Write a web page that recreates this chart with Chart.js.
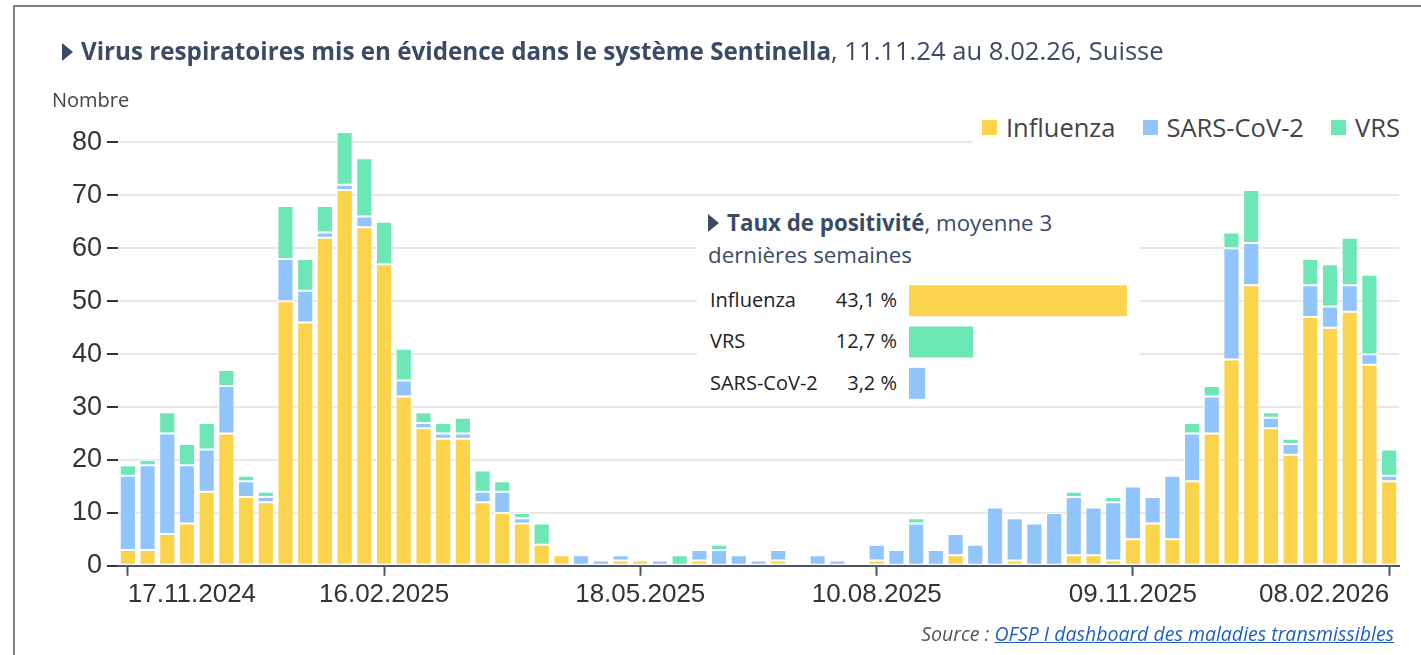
<!DOCTYPE html>
<html lang="fr">
<head>
<meta charset="utf-8">
<script src="https://cdn.jsdelivr.net/npm/chart.js@4.4.1/dist/chart.umd.min.js"></script>
<style>
  html, body { margin: 0; padding: 0; background: #fff; }
  #wrap { position: relative; width: 1421px; height: 655px; overflow: hidden; font-family: "Open Sans", sans-serif; }
  #frame { position: absolute; left: 13px; top: 5px; width: 1440px; height: 700px; border: 2px solid #808080; box-sizing: border-box; }
  #main { position: absolute; left: 0; top: 0; }
  .title { position: absolute; left: 62px; top: 33px; font-size: 25.6px; color: #3b4b66; white-space: nowrap; }
  .title b { font-weight: 700; font-size: 24.2px; }
  .tri { display: inline-block; width: 0; height: 0; border-top: 9px solid transparent; border-bottom: 9px solid transparent; border-left: 11px solid #3b4b66; margin-right: 8px; vertical-align: -1px; }
  .ylab { position: absolute; left: 52px; top: 86px; font-size: 20px; color: #444; }
  #legend { position: absolute; left: 972px; top: 100px; width: 449px; height: 54px; background: #fff; display: flex; align-items: center; gap: 27px; padding-left: 10px; box-sizing: border-box; }
  #legend span.item { display: flex; align-items: center; font-size: 25.5px; color: #444; }
  #legend i { display: inline-block; width: 15px; height: 15px; margin-right: 9px; }
  #inset { position: absolute; left: 697px; top: 200px; width: 443px; height: 205px; background: #fff; }
  #inset .ititle { position: absolute; left: 11px; top: 7px; width: 380px; font-size: 22.3px; line-height: 32px; color: #3b4b66; }
  #inset .row { position: absolute; left: 13px; font-size: 20px; color: #222; width: 187px; }
  #inset .row .pct { position: absolute; right: 0; top: 0; }
  #bars { position: absolute; left: 212px; top: 80px; }
  .source { position: absolute; right: 27px; top: 620px; font-size: 19.5px; font-style: italic; color: #555; }
  .source a { color: #1f5fbf; text-decoration: underline; }
</style>
</head>
<body>
<div id="wrap">
  <div id="frame"></div>
  <canvas id="main" width="1421" height="655"></canvas>
  <div class="title"><span class="tri"></span><b>Virus respiratoires mis en évidence dans le système Sentinella</b>, 11.11.24 au 8.02.26, Suisse</div>
  <div class="ylab">Nombre</div>
  <div id="legend"></div>
  <div id="inset">
    <div class="ititle"><span class="tri"></span><b>Taux de positivité</b>, moyenne 3 dernières semaines</div>
    <div id="rows"></div>
    <canvas id="bars" width="230" height="124"></canvas>
  </div>
  <div class="source">Source : <a href="#">OFSP I dashboard des maladies transmissibles</a></div>
</div>

<script>
// weekly categories (week ending on Sunday)
const weeks = [
  "17.11.2024", "24.11.2024", "01.12.2024", "08.12.2024", "15.12.2024", "22.12.2024", "29.12.2024",
  "05.01.2025", "12.01.2025", "19.01.2025", "26.01.2025", "02.02.2025", "09.02.2025", "16.02.2025",
  "23.02.2025", "02.03.2025", "09.03.2025", "16.03.2025", "23.03.2025", "30.03.2025", "06.04.2025",
  "13.04.2025", "20.04.2025", "27.04.2025", "04.05.2025", "11.05.2025", "18.05.2025", "25.05.2025",
  "01.06.2025", "08.06.2025", "15.06.2025", "22.06.2025", "29.06.2025", "06.07.2025", "13.07.2025",
  "20.07.2025", "27.07.2025", "03.08.2025", "10.08.2025", "17.08.2025", "24.08.2025", "31.08.2025",
  "07.09.2025", "14.09.2025", "21.09.2025", "28.09.2025", "05.10.2025", "12.10.2025", "19.10.2025",
  "26.10.2025", "02.11.2025", "09.11.2025", "16.11.2025", "23.11.2025", "30.11.2025", "07.12.2025",
  "14.12.2025", "21.12.2025", "28.12.2025", "04.01.2026", "11.01.2026", "18.01.2026", "25.01.2026",
  "01.02.2026", "08.02.2026"
];

const influenza = [3, 3, 6, 8, 14, 25, 13, 12, 50, 46, 62, 71, 64, 57, 32, 26, 24, 24, 12, 10, 8, 4, 2, 0, 0, 1,
  1, 0, 0, 1, 0, 0, 0, 1, 0, 0, 0, 0, 1, 0, 0, 0, 2, 0, 0, 1, 0, 0, 2, 2, 1, 5, 8, 5, 16, 25, 39, 53, 26, 21,
  47, 45, 48, 38, 16];
const sarsCov2 = [14, 16, 19, 11, 8, 9, 3, 1, 8, 6, 1, 1, 2, 0, 3, 1, 1, 1, 2, 4, 1, 0, 0, 2, 1, 1,
  0, 1, 0, 2, 3, 2, 1, 2, 0, 2, 1, 0, 3, 3, 8, 3, 4, 4, 11, 8, 8, 10, 11, 9, 11, 10, 5, 12, 9, 7, 21, 8, 2, 2,
  6, 4, 5, 2, 1];
const vrs = [2, 1, 4, 4, 5, 3, 1, 1, 10, 6, 5, 10, 11, 8, 6, 2, 2, 3, 4, 2, 1, 4, 0, 0, 0, 0,
  0, 0, 2, 0, 1, 0, 0, 0, 0, 0, 0, 0, 0, 0, 1, 0, 0, 0, 0, 0, 0, 0, 1, 0, 1, 0, 0, 0, 2, 2, 3, 10, 1, 1,
  5, 8, 9, 15, 5];

const tickLabels = ["17.11.2024", "16.02.2025", "18.05.2025", "10.08.2025", "09.11.2025", "08.02.2026"];
const yTicks = [0, 10, 20, 30, 40, 50, 60, 70, 80];

// positivity rate, mean of last 3 weeks
const rateNames = ["Influenza", "VRS", "SARS-CoV-2"];
const rateValues = [43.1, 12.7, 3.2];

const colors = { Influenza: "#fcd34d", "SARS-CoV-2": "#93c5fd", VRS: "#6ee7b7" };
const seriesNames = ["Influenza", "SARS-CoV-2", "VRS"];
const seriesData = [influenza, sarsCov2, vrs];

// legend
const legend = document.getElementById("legend");
seriesNames.forEach(name => {
  const it = document.createElement("span");
  it.className = "item";
  it.innerHTML = '<i style="background:' + colors[name] + '"></i>' + name;
  legend.appendChild(it);
});

// inset rows text
const rows = document.getElementById("rows");
rateNames.forEach((name, i) => {
  const r = document.createElement("div");
  r.className = "row";
  r.style.top = (86 + i * 41.3) + "px";
  r.innerHTML = name + '<span class="pct">' + rateValues[i].toFixed(1).replace(".", ",") + " %</span>";
  rows.appendChild(r);
});

const fontFam = "'Liberation Sans', Arial, sans-serif";

new Chart(document.getElementById("main").getContext("2d"), {
  type: "bar",
  data: {
    labels: weeks,
    datasets: seriesNames.map((name, i) => ({
      label: name,
      data: seriesData[i],
      backgroundColor: colors[name],
      borderColor: "rgba(255,255,255,0.75)",
      borderWidth: 1,
      borderSkipped: false,
      categoryPercentage: 1,
      barPercentage: 0.82
    }))
  },
  options: {
    responsive: false,
    animation: false,
    devicePixelRatio: 1,
    layout: { padding: { left: 72, right: 22, top: 116, bottom: 42 } },
    plugins: { legend: { display: false }, tooltip: { enabled: false } },
    scales: {
      x: {
        stacked: true,
        border: { display: true, color: "#4b5563", width: 2 },
        grid: {
          offset: false,
          drawOnChartArea: false,
          drawTicks: true,
          tickLength: 10,
          tickWidth: 2,
          tickColor: ctx => tickLabels.includes(weeks[ctx.index]) ? "#4b5563" : "rgba(0,0,0,0)"
        },
        ticks: {
          autoSkip: false,
          maxRotation: 0,
          align: "inner",
          padding: 3,
          color: "#333",
          font: { family: fontFam, size: 26 },
          callback: (v, i) => tickLabels.includes(weeks[i]) ? weeks[i] : ""
        }
      },
      y: {
        stacked: true,
        min: 0,
        max: 85,
        afterBuildTicks: scale => { scale.ticks = yTicks.map(v => ({ value: v })); },
        afterFit: scale => { scale.width = 46; },
        border: { display: false },
        grid: { color: "#e8e8e8", lineWidth: 2, tickColor: "#333", tickLength: 11, tickWidth: 2 },
        ticks: { padding: 5, color: "#333", font: { family: fontFam, size: 27 } }
      }
    }
  }
});

// small horizontal bars in the inset
new Chart(document.getElementById("bars").getContext("2d"), {
  type: "bar",
  data: {
    labels: rateNames,
    datasets: [{
      data: rateValues,
      backgroundColor: rateNames.map(n => colors[n]),
      categoryPercentage: 1,
      barPercentage: 0.75
    }]
  },
  options: {
    indexAxis: "y",
    responsive: false,
    animation: false,
    devicePixelRatio: 1,
    layout: { padding: 0 },
    plugins: { legend: { display: false }, tooltip: { enabled: false } },
    scales: {
      x: { display: false, min: 0, max: 45.5 },
      y: { display: false }
    }
  }
});
</script>
</body>
</html>
